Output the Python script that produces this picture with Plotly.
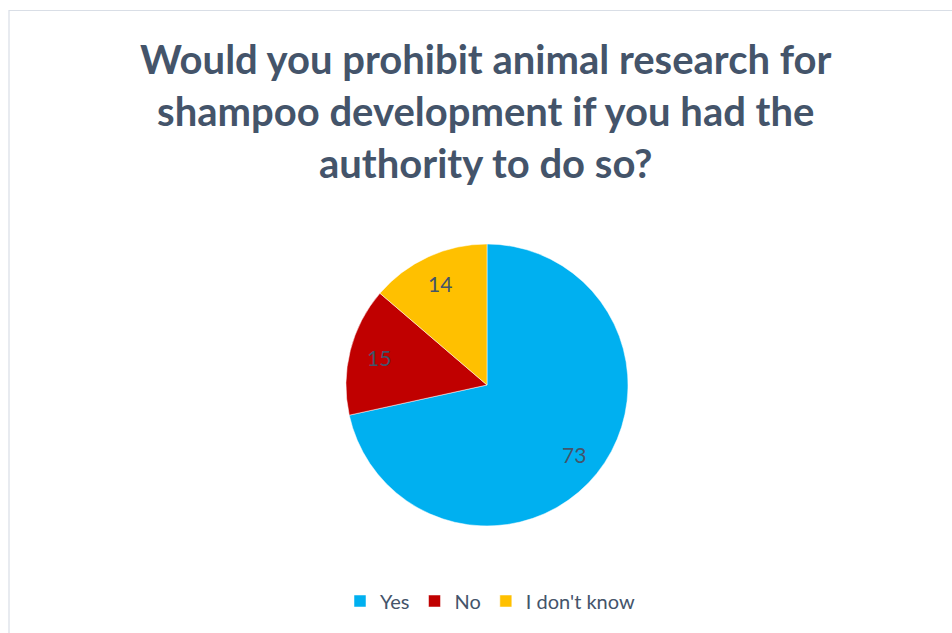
import math
import plotly.graph_objects as go

categories = ["Yes", "No", "I don't know"]
values = [73, 15, 14]
colors = ["#00B0F0", "#C00000", "#FFC000"]
title_lines = ["Would you prohibit animal research for",
               "shampoo development if you had the",
               "authority to do so?"]

W, H = 952, 633
cx_px, cy_px, R = 487, 385, 141
dom_x = [(cx_px - R) / W, (cx_px + R) / W]
dom_y = [(H - cy_px - R) / H, (H - cy_px + R) / H]

fig = go.Figure(go.Pie(
    labels=categories, values=values, sort=False, direction="clockwise",
    rotation=0, marker=dict(colors=colors, line=dict(color="white", width=0.5)),
    textinfo="none", hoverinfo="label+value",
    domain=dict(x=dom_x, y=dom_y),
))

# data labels at ~0.79 R along each slice's mid-angle
total = sum(values)
cum = 0
annotations = []
for v in values:
    mid = (cum + v / 2) / total * 2 * math.pi
    cum += v
    r = 0.79 * R
    ax = (cx_px + r * math.sin(mid)) / W
    ay = (H - cy_px + r * math.cos(mid)) / H
    annotations.append(dict(x=ax, y=ay, xref="paper", yref="paper", text=str(v),
                            xanchor="center", yanchor="middle",
                            showarrow=False, font=dict(size=21, color="#44546A",
                                                       family="Lato")))

annotations.append(dict(
    x=486 / W, y=(H - 110.5) / H, xref="paper", yref="paper",
    xanchor="center", yanchor="middle", showarrow=False,
    text="<b>" + "<br>".join(title_lines) + "</b>",
    font=dict(family="Lato", size=40, color="#44546A")))

fig.update_layout(
    width=W, height=H,
    margin=dict(l=0, r=0, t=0, b=0),
    paper_bgcolor="white", plot_bgcolor="white",
    legend=dict(orientation="h", x=490 / W, xanchor="center", y=32 / H,
                yanchor="middle", font=dict(family="Lato", size=20, color="#44546A"),
                traceorder="normal"),
    annotations=annotations,
    shapes=[dict(type="rect", xref="paper", yref="paper",
                 x0=9 / W, x1=1.05, y0=-0.05, y1=1 - 10.5 / H,
                 line=dict(color="#D9DEE6", width=1.2))],
)

fig.write_html("out.html", config={"displayModeBar": False},
               post_script="document.body.style.margin='0';document.body.style.padding='0';")
